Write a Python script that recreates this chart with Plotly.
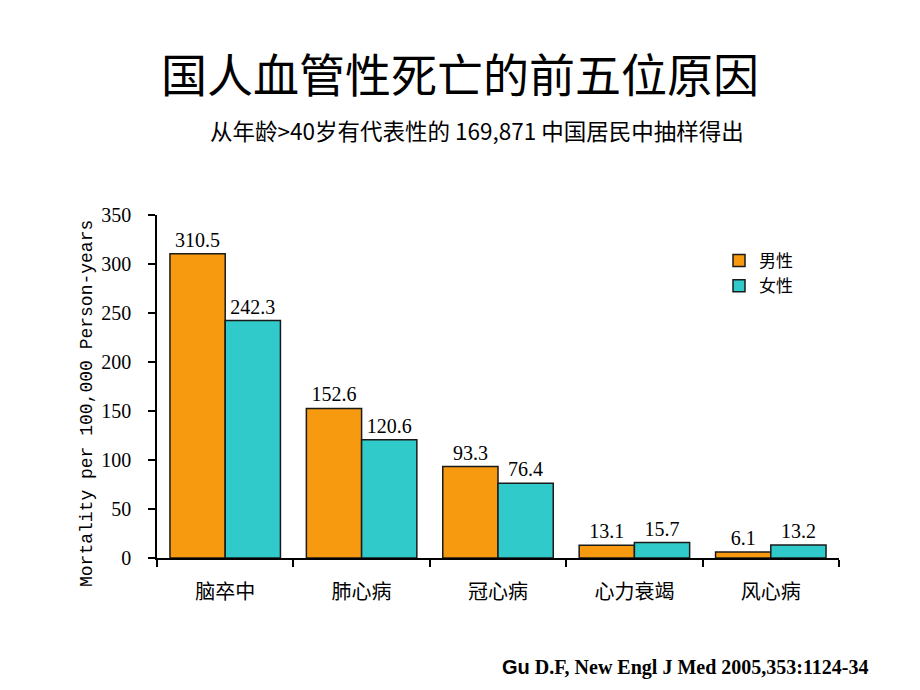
import plotly.graph_objects as go

categories = ["脑卒中", "肺心病", "冠心病", "心力衰竭", "风心病"]
male = [310.5, 152.6, 93.3, 13.1, 6.1]
female = [242.3, 120.6, 76.4, 15.7, 13.2]
y_ticks = [0, 50, 100, 150, 200, 250, 300, 350]

title_text = "国人血管性死亡的前五位原因"
subtitle_text = "从年龄>40岁有代表性的 169,871 中国居民中抽样得出"
ytitle = "Mortality per 100,000 Person-years"

num_font = dict(family="Liberation Serif", size=20, color="black")
tick_font = dict(family="Liberation Serif", size=20, color="black")
cjk = "Noto Sans CJK SC"

# plot area in page pixels (page has 8px body margin)
L, R, T, B = 149, 831, 207, 550
PW, PH = R - L, B - T

def px(x):
    return (x - 8 - L) / PW

def py(y):
    return (B - (y - 8)) / PH

fig = go.Figure()
fig.add_trace(go.Bar(
    x=categories, y=male, name="男性",
    marker=dict(color="#F79A10", line=dict(color="#1a1a1a", width=1.5)),
    text=[f"{v}" for v in male], textposition="outside", textfont=num_font,
    cliponaxis=False,
))
fig.add_trace(go.Bar(
    x=categories, y=female, name="女性",
    marker=dict(color="#30CACA", line=dict(color="#1a1a1a", width=1.5)),
    text=[f"{v}" for v in female], textposition="outside", textfont=num_font,
    cliponaxis=False,
))

fig.update_layout(
    width=920, height=690,
    margin=dict(l=L, r=920 - R, t=T, b=690 - B),
    paper_bgcolor="white", plot_bgcolor="white",
    barmode="group", bargap=0.19, bargroupgap=0,
    showlegend=True,
    legend=dict(x=px(719), y=py(243), xanchor="left", yanchor="top",
                font=dict(family=cjk, size=17, color="black"),
                bgcolor="rgba(0,0,0,0)", tracegroupgap=0, itemwidth=30),
    xaxis=dict(
        type="category", range=[-0.5, 4.5],
        showline=True, linecolor="black", linewidth=1.5,
        ticks="outside", tickson="boundaries", ticklen=7, tickcolor="black", tickwidth=1.5,
        tickfont=dict(family=cjk, size=20, color="black"),
        ticklabelstandoff=15,
        showgrid=False, zeroline=False,
    ),
    yaxis=dict(
        range=[0, 350], tickvals=y_ticks,
        showline=True, linecolor="black", linewidth=1.5,
        ticks="outside", ticklen=7, tickcolor="black", tickwidth=1.5,
        tickfont=tick_font, ticklabelstandoff=13,
        showgrid=False, zeroline=False,
    ),
    annotations=[
        dict(text=title_text, xref="paper", yref="paper", x=px(460), y=py(72),
             xanchor="center", yanchor="middle", showarrow=False,
             font=dict(family=cjk, size=46, color="black")),
        dict(text=subtitle_text, xref="paper", yref="paper", x=px(477), y=py(130),
             xanchor="center", yanchor="middle", showarrow=False,
             font=dict(family=cjk, size=22.5, color="black")),
        dict(text=ytitle, xref="paper", yref="paper", x=px(87), y=py(404),
             xanchor="center", yanchor="middle", showarrow=False, textangle=-90,
             font=dict(family="Liberation Mono", size=18, color="black")),
        dict(text='<b><span style="font-family:Liberation Sans">Gu</span> D.F, New Engl J Med 2005,353:1124-34</b>',
             xref="paper", yref="paper", x=px(870), y=py(667),
             xanchor="right", yanchor="middle", showarrow=False,
             font=dict(family="Liberation Serif", size=20, color="black")),
    ],
)

fig.write_html("out.html")
